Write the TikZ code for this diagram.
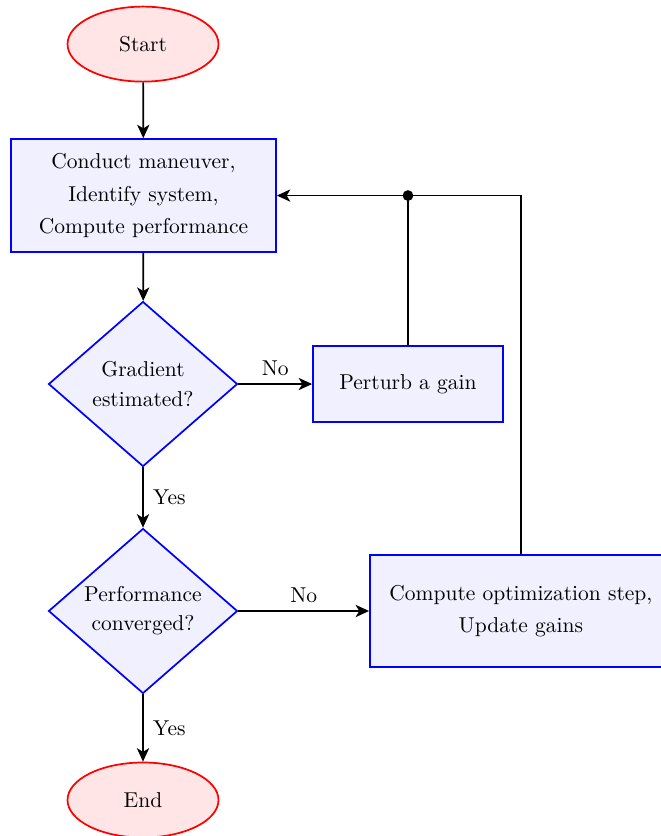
\documentclass[tikz,border=0pt]{standalone}
\usepackage{amsmath, amssymb}
\usepackage{xcolor}
\usetikzlibrary{shapes.geometric, arrows.meta}

\begin{document}
\begin{tikzpicture}[
  terminal/.style={ellipse, draw=red, fill=red!10, thick, inner sep=0pt,
    minimum width=2.467cm, minimum height=1.226cm},
  process/.style={rectangle, draw=blue, fill=blue!6, thick, align=center},
  decision/.style={diamond, draw=blue, fill=blue!6, thick, align=center,
    inner sep=0pt, aspect=1.145, minimum width=3.088cm, minimum height=2.696cm},
  flow/.style={thick, -{Stealth[length=2.2mm, width=2mm, inset=0.6mm]}}
]
\useasboundingbox (0.0, 0.0) rectangle (10.786, 13.662);

\node[terminal] (start) at (2.337, 12.941) {Start};
\node[process, minimum width=4.330cm, minimum height=1.846cm] (ident) at (2.345, 10.466)
  {Conduct maneuver,\\[3pt] Identify system,\\[3pt] Compute performance};
\node[decision] (grad) at (2.337, 7.386) {Gradient\\[1.5pt] estimated?};
\node[process, minimum width=3.105cm, minimum height=1.242cm] (perturb) at (6.667, 7.386)
  {Perturb a gain};
\node[decision] (conv) at (2.337, 3.677) {Performance\\[1.5pt] converged?};
\node[process, minimum width=4.935cm, minimum height=1.830cm] (optim) at (8.513, 3.677)
  {Compute optimization step,\\[3pt] Update gains};
\node[terminal] (stop) at (2.337, 0.588) {End};

\coordinate (join) at (perturb.north |- ident.east);

\draw[flow] (start) -- (ident);
\draw[flow] (ident) -- (grad);
\draw[flow] (grad) -- node[above] {No} (perturb);
\draw[flow] (grad) -- node[right=1pt] {Yes} (conv);
\draw[flow] (conv) -- node[above] {No} (optim);
\draw[flow] (conv) -- node[right=1pt] {Yes} (stop);

\draw[thick] (perturb.north) -- (join);
\draw[flow] (optim.north) |- (ident.east);
\fill (join) circle (2.5pt);
\end{tikzpicture}
\end{document}
